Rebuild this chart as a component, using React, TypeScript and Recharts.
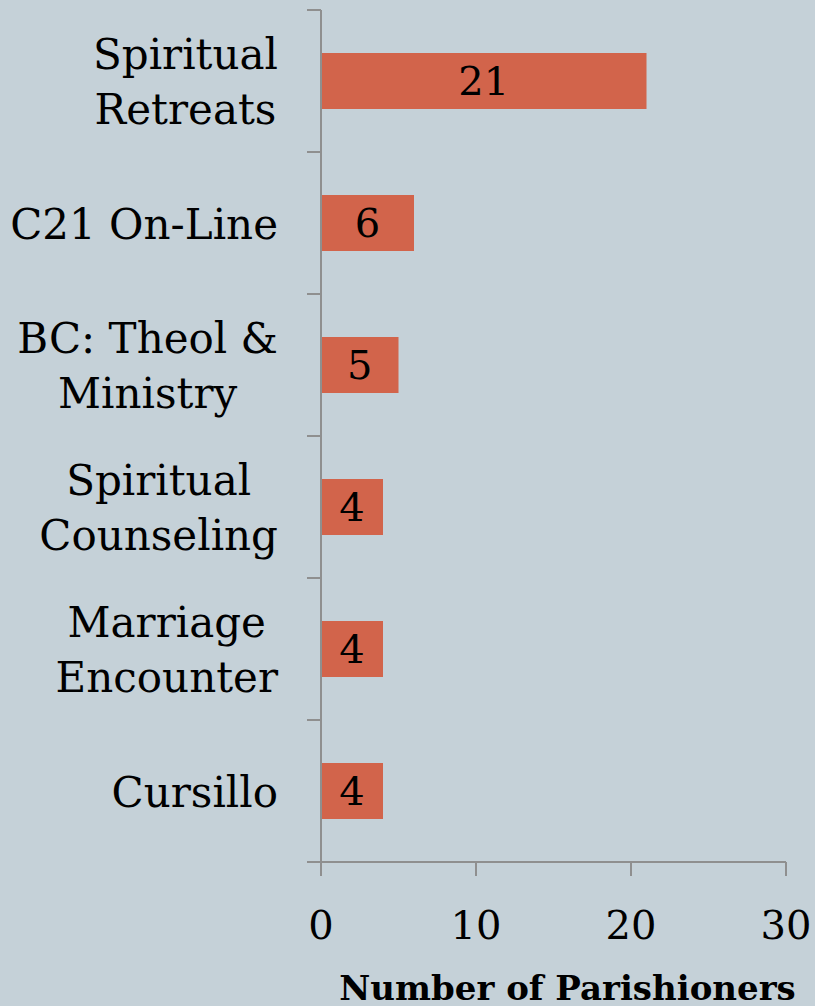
import React from 'react';
import { BarChart, Bar, XAxis, YAxis, LabelList } from 'recharts';

const categories = ['Spiritual Retreats', 'C21 On-Line', 'BC: Theol & Ministry', 'Spiritual Counseling', 'Marriage Encounter', 'Cursillo'];
const labelLines = [['Spiritual', 'Retreats'], ['C21 On-Line'], ['BC: Theol &', 'Ministry'], ['Spiritual', 'Counseling'], ['Marriage', 'Encounter'], ['Cursillo']];
const values = [21, 6, 5, 4, 4, 4];
const xTicks = [0, 10, 20, 30];
const xAxisTitle = 'Number of Parishioners';

const data = categories.map((c, i) => ({ name: c, value: values[i], lines: labelLines[i] }));

const FONT = "'DejaVu Serif', serif";
const LABEL_SIZE = 42;
const AXIS_COLOR = '#8f8f8f';
const BAR_COLOR = '#d2644b';
const BG = '#c5d1d8';

let canvasCtx: CanvasRenderingContext2D | null = null;
function measure(text: string, size: number): number {
  if (!canvasCtx) {
    const c = document.createElement('canvas');
    canvasCtx = c.getContext('2d');
  }
  if (!canvasCtx) return text.length * size * 0.55;
  canvasCtx.font = `${size}px 'DejaVu Serif'`;
  return canvasCtx.measureText(text).width;
}

const YTick = (props: any) => {
  const { x, y, payload, index } = props;
  const lines: string[] = labelLines[categories.indexOf(payload.value)] || [payload.value];
  const axisX = x + 43;
  const half = payload.offset ?? 71;
  const maxW = Math.max(...lines.map((l) => measure(l, LABEL_SIZE)));
  const cx = x - maxW / 2;
  const lineGap = 55;
  const firstBase = y + 15.5 - ((lines.length - 1) * lineGap) / 2;
  return (
    <g>
      {index === 0 && (
        <line x1={axisX - 14} x2={axisX} y1={y - half} y2={y - half} stroke={AXIS_COLOR} strokeWidth={2} />
      )}
      <line x1={axisX - 14} x2={axisX} y1={y + half} y2={y + half} stroke={AXIS_COLOR} strokeWidth={2} />
      {lines.map((l, i) => (
        <text key={i} x={cx} y={firstBase + i * lineGap} textAnchor="middle" fontFamily={FONT} fontSize={LABEL_SIZE} fill="#000">
          {l}
        </text>
      ))}
    </g>
  );
};

const XTick = (props: any) => {
  const { x, y, payload } = props;
  return (
    <text x={x} y={y + 61} textAnchor="middle" fontFamily={FONT} fontSize={40} fill="#000">
      {payload.value}
    </text>
  );
};

const XTitle = (props: any) => {
  const vb = props.viewBox || {};
  return (
    <text
      x={vb.x + vb.width / 2 + 14}
      y={vb.y + vb.height - 6}
      textAnchor="middle"
      fontFamily={FONT}
      fontWeight="bold"
      fontSize={34}
      fill="#000"
    >
      {xAxisTitle}
    </text>
  );
};

export default function App() {
  return (
    <div style={{ position: 'absolute', left: 0, top: 0, width: 815, height: 1006, background: BG }}>
      <BarChart
        width={815}
        height={1006}
        data={data}
        layout="vertical"
        margin={{ top: 10, right: 29, bottom: 0, left: 0 }}
        barSize={56}
      >
        <XAxis
          type="number"
          domain={[0, 30]}
          ticks={xTicks}
          interval={0}
          height={144}
          tickSize={14}
          tickMargin={2}
          axisLine={{ stroke: AXIS_COLOR, strokeWidth: 2 }}
          tickLine={{ stroke: AXIS_COLOR, strokeWidth: 2 }}
          tick={<XTick />}
          label={<XTitle />}
        />
        <YAxis
          type="category"
          dataKey="name"
          width={321}
          tickSize={14}
          tickMargin={29}
          tickLine={false}
          interval={0}
          axisLine={{ stroke: AXIS_COLOR, strokeWidth: 2 }}
          tick={<YTick />}
        />
        <Bar dataKey="value" fill={BAR_COLOR} isAnimationActive={false}>
          <LabelList dataKey="value" position="center" fill="#000" fontFamily={FONT} fontSize={40} />
        </Bar>
      </BarChart>
    </div>
  );
}
